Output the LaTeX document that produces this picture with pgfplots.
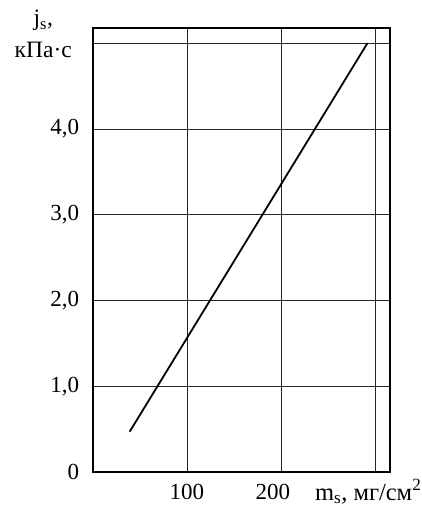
\documentclass[border=0pt]{standalone}
\usepackage{fontspec}
\setmainfont{Liberation Serif}
\usepackage{pgfplots}
\pgfplotsset{compat=1.18}
\begin{document}
\fontsize{23}{35}\selectfont
\begin{tikzpicture}
\begin{axis}[
  scale only axis,
  width=297pt, height=444pt,
  xmin=0, xmax=316, ymin=0, ymax=5.177,
  xtick={100,200,300},
  xticklabels={100,\hspace*{-16pt}200,},
  ytick={0,1,2,3,4,5},
  yticklabels={0,{1,0},{2,0},{3,0},{4,0},},
  major tick length=0pt,
  grid=major,
  grid style={black!85, line width=0.8pt},
  axis line style={black, line width=1.2pt},
  tick label style={font=\fontsize{23}{27}\selectfont},
  yticklabel style={xshift=-6pt},
  xticklabel style={yshift=-4pt},
  xlabel={m\textsubscript{s}, мг/см\textsuperscript{2}},
  xlabel style={at={(rel axis cs:0.747,0)}, anchor=base west, inner sep=0pt, yshift=-28pt, font=\fontsize{24.5}{28}\selectfont},
  ylabel={j\textsubscript{s},\\кПа·с},
  ylabel style={rotate=-90, at={(rel axis cs:0,1)}, anchor=north east, align=center, inner sep=0pt, xshift=-21pt, yshift=18pt, font=\fontsize{23.5}{32}\selectfont},
]
\coordinate (bl) at (rel axis cs:0,0);
\coordinate (tr) at (rel axis cs:1,1);
\addplot[black, line width=1.8pt] coordinates {(39,0.47) (292,5.0)};
\end{axis}
\pgfresetboundingbox
\path ([shift={(-93pt,-34pt)}]bl) rectangle ([shift={(32pt,28pt)}]tr);
\end{tikzpicture}
\end{document}
